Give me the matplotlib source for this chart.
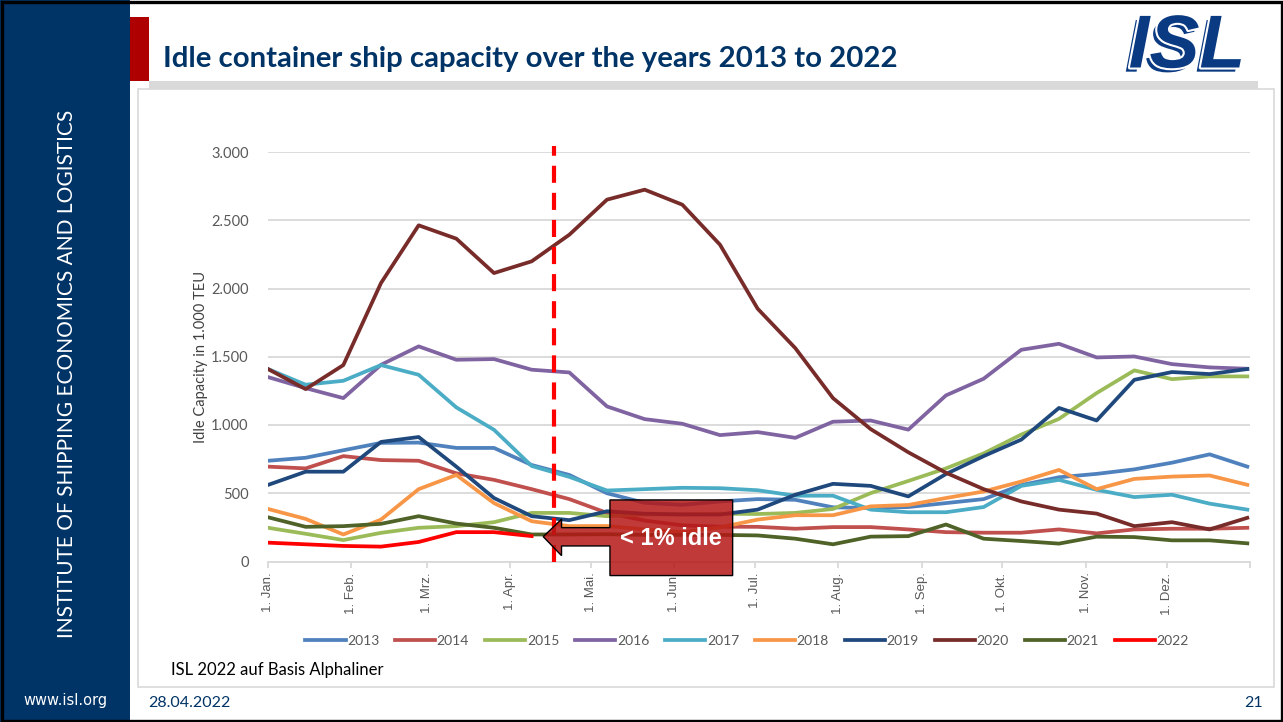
import numpy as np
import matplotlib.pyplot as plt
from matplotlib.patches import Rectangle, Polygon
import matplotlib.patheffects as pe

plt.rcParams['font.family'] = ['Lato', 'DejaVu Sans']

# biweekly sampling, day of year (1 Jan = 0)
days = np.arange(0, 365, 14)

idle_2013 = [738, 760, 815, 869, 871, 832, 832, 707, 634, 500, 430, 415, 440, 457,
             452, 397, 392, 399, 428, 457, 560, 617, 642, 675, 724, 785, 695]
idle_2014 = [695, 682, 772, 743, 738, 646, 598, 530, 457, 356, 300, 265, 255, 254,
             240, 252, 252, 235, 215, 211, 211, 235, 206, 235, 240, 240, 247]
idle_2015 = [247, 203, 157, 210, 247, 259, 288, 356, 356, 332, 345, 345, 350, 348,
             356, 385, 501, 590, 682, 792, 930, 1045, 1234, 1400, 1336, 1356, 1356]
idle_2016 = [1351, 1270, 1197, 1441, 1576, 1478, 1483, 1405, 1385, 1136, 1043, 1009, 926, 948,
             906, 1024, 1033, 966, 1217, 1339, 1551, 1595, 1495, 1502, 1446, 1422, 1412]
idle_2017 = [1410, 1295, 1324, 1439, 1368, 1129, 965, 700, 620, 520, 530, 540, 537, 522,
             482, 482, 380, 361, 361, 399, 554, 598, 525, 472, 489, 424, 380]
idle_2018 = [385, 312, 198, 307, 530, 634, 428, 295, 259, 260, 235, 215, 250, 307,
             339, 339, 404, 414, 465, 513, 586, 671, 530, 605, 622, 630, 562]
idle_2019 = [561, 658, 658, 876, 912, 695, 465, 332, 303, 368, 350, 345, 344, 380,
             489, 569, 554, 477, 641, 772, 893, 1125, 1033, 1331, 1388, 1373, 1410]
idle_2020 = [1410, 1263, 1439, 2040, 2463, 2365, 2113, 2199, 2394, 2651, 2724, 2614, 2321, 1852,
             1563, 1197, 970, 800, 650, 530, 440, 380, 351, 259, 288, 235, 320]
idle_2021 = [324, 254, 259, 276, 332, 278, 247, 198, 198, 200, 195, 195, 195, 191,
             167, 126, 182, 186, 271, 167, 150, 131, 182, 179, 155, 155, 133]
idle_2022 = [138, 126, 114, 109, 143, 215, 215, 186]

years = ['2013', '2014', '2015', '2016', '2017', '2018', '2019', '2020', '2021', '2022']
series = [idle_2013, idle_2014, idle_2015, idle_2016, idle_2017,
          idle_2018, idle_2019, idle_2020, idle_2021, idle_2022]
colors = ['#4F81BD', '#C0504D', '#9BBB59', '#8064A2', '#4BACC6',
          '#F79646', '#1F497D', '#772C2A', '#4F6228', '#FF0000']

month_starts = [0, 31, 59, 90, 120, 151, 181, 212, 243, 273, 304, 334]
month_labels = ['1. Jan.', '1. Feb.', '1. Mrz.', '1. Apr.', '1. Mai.', '1. Jun.',
                '1. Jul.', '1. Aug.', '1. Sep.', '1. Okt.', '1. Nov.', '1. Dez.']

cutoff_day = 106.3
callout_text = '< 1% idle'

W, H = 1283, 722
navy = '#003366'
logo_blue = '#0A3A82'

fig = plt.figure(figsize=(W / 100, H / 100), dpi=100)

# slide frame drawn in pixel coordinates
bg = fig.add_axes([0, 0, 1, 1], zorder=0)
bg.set_xlim(0, W)
bg.set_ylim(H, 0)
bg.axis('off')

bg.add_patch(Rectangle((0, 0), 130, H, color=navy, lw=0))
bg.add_patch(Rectangle((130, 17), 19, 64, color='#AE0000', lw=0))
bg.add_patch(Rectangle((149, 81), 1109, 8, color='#D9D9D9', lw=0))
bg.add_patch(Rectangle((138, 89), 1136, 598, fill=False, ec='#D9D9D9', lw=1.2))
bg.add_patch(Rectangle((1.5, 1.5), W - 3, H - 3, fill=False, ec='black', lw=2.4))

bg.text(163, 67, 'Idle container ship capacity over the years 2013 to 2022',
        ha='left', va='baseline', fontsize=21.2, fontweight='bold', color=navy)
bg.text(67, 374, 'INSTITUTE OF SHIPPING ECONOMICS AND LOGISTICS', rotation=90,
        ha='center', va='center', fontsize=15, color='white', fontweight='normal')
bg.text(65, 701, 'www.isl.org', ha='center', va='center', fontsize=10.5,
        color='white', family='DejaVu Sans')
bg.text(148, 707, '28.04.2022', ha='left', va='baseline', fontsize=11.5, color=navy)
bg.text(1263, 707, '21', ha='right', va='baseline', fontsize=11.5, color=navy)
bg.text(171, 675, 'ISL 2022 auf Basis Alphaliner', ha='left', va='baseline',
        fontsize=12, color='black')

# ISL logo: blue letters with an offset outline behind a white gap
bg.text(1187, 48, 'ISL', ha='center', va='center', fontsize=54, fontweight='bold',
        style='italic', family='Liberation Sans', color=logo_blue,
        path_effects=[pe.SimplePatchShadow(offset=(-3, -3), shadow_rgbFace=logo_blue,
                                           alpha=1.0),
                      pe.Stroke(linewidth=3, foreground='white'),
                      pe.Normal()])

# chart
ax = fig.add_axes([268 / W, 1 - 561.5 / H, 982 / W, 409.5 / H], zorder=2)
ax.set_facecolor('none')

lines = []
for name, vals, c in zip(years, series, colors):
    ln, = ax.plot(days[:len(vals)], vals, color=c, lw=2.7, label=name)
    lines.append(ln)

ax.set_xlim(0, 365)
ax.set_ylim(0, 3000)
ax.set_yticks(np.arange(0, 3001, 500))
ax.set_yticklabels([f'{v:,}'.replace(',', '.') for v in range(0, 3001, 500)])
ax.yaxis.grid(True, color='#D9D9D9', lw=1.3)
ax.set_axisbelow(True)
for s in ['left', 'right', 'top']:
    ax.spines[s].set_visible(False)
ax.spines['bottom'].set_color('#D9D9D9')
ax.spines['bottom'].set_linewidth(1.3)

ax.set_xticks(month_starts + [365])
ax.set_xticklabels(month_labels + [''], rotation=90, family='Liberation Sans')
ax.tick_params(axis='x', direction='out', length=4, width=1.3, color='#D9D9D9',
               labelsize=9.5, labelcolor='#595959', pad=4)
ax.tick_params(axis='y', length=0, labelsize=10.5, labelcolor='#595959', pad=14)
ax.set_ylabel('Idle Capacity in 1.000 TEU', fontsize=10.5, color='#404040')
ax.yaxis.set_label_coords(-0.061, 0.5)

# cut-off marker
ax.plot([cutoff_day, cutoff_day], [0, 3045], color='#FF0000', lw=3,
        dashes=(4.1, 2.4), clip_on=False, zorder=5)

# callout arrow box
callout = Polygon([(102.3, 182), (109.1, 310), (109.1, 248), (127.1, 248),
                   (127.1, 451), (172.7, 451), (172.7, -103), (127.1, -103),
                   (127.1, 114), (109.1, 114), (109.1, 43)],
                  closed=True, fc=(0.71, 0.09, 0.09, 0.85), ec='black', lw=1,
                  clip_on=False, zorder=6)
ax.add_patch(callout)
ax.text(149.9, 172, callout_text, ha='center', va='center', fontsize=17,
        fontweight='bold', color='white', family='Liberation Sans', zorder=7)

fig.legend(lines, years, ncol=10, loc='center', bbox_to_anchor=(747 / W, 1 - 641 / H),
           frameon=False, fontsize=10, handlelength=2.9, handletextpad=0.1,
           columnspacing=1.15, labelcolor='#595959')

fig.savefig('out.png', dpi=100)
